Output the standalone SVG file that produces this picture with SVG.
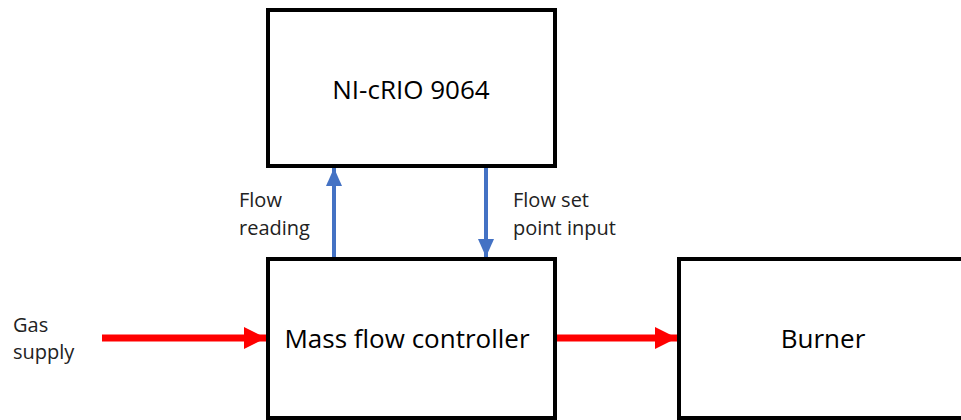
<svg xmlns="http://www.w3.org/2000/svg" width="961" height="420" viewBox="0 0 961 420">
<style>
.box{fill:#fff;stroke:#000;stroke-width:4}
.big{font-family:"Open Sans","Liberation Sans",sans-serif;font-size:26px;fill:#000;text-anchor:middle;dominant-baseline:central}
.lbl{font-family:"Open Sans","Liberation Sans",sans-serif;font-size:20px;fill:#222}
.red{stroke:#ff0000;stroke-width:7;fill:none}
.blue{stroke:#4472c4;stroke-width:4;fill:none}
</style>
<defs>
<marker id="ra" markerUnits="userSpaceOnUse" markerWidth="22" markerHeight="24" refX="22" refY="12" orient="auto"><path d="M0,1 L22,12 L0,23 Z" fill="#ff0000"/></marker>
<marker id="ba" markerUnits="userSpaceOnUse" markerWidth="18" markerHeight="18" refX="18" refY="8" orient="auto"><path d="M0,0 L18,8 L0,16 Z" fill="#4472c4"/></marker>
</defs>
<rect width="961" height="420" fill="#fff"/>
<g id="nicrio"><rect class="box" x="268" y="10" width="287" height="156"/><text class="big" x="411" y="89">NI-cRIO 9064</text></g>
<g id="mfc"><rect class="box" x="268" y="259" width="287" height="159"/><text class="big" x="407" y="338">Mass flow controller</text></g>
<g id="burner"><rect class="box" x="679" y="259" width="290" height="159"/><text class="big" x="823" y="338">Burner</text></g>
<g id="connectors">
<line class="red" x1="102" y1="338" x2="266" y2="338" marker-end="url(#ra)"/>
<line class="red" x1="557" y1="338" x2="677" y2="338" marker-end="url(#ra)"/>
<line class="blue" x1="334" y1="257" x2="334" y2="168" marker-end="url(#ba)"/>
<line class="blue" x1="486" y1="168" x2="486" y2="257" marker-end="url(#ba)"/>
</g>
<g id="labels">
<text class="lbl" x="13" y="332">Gas</text>
<text class="lbl" x="13" y="359">supply</text>
<text class="lbl" x="239" y="207">Flow</text>
<text class="lbl" x="239" y="235">reading</text>
<text class="lbl" x="513" y="207">Flow set</text>
<text class="lbl" x="513" y="235">point input</text>
</g>
</svg>
